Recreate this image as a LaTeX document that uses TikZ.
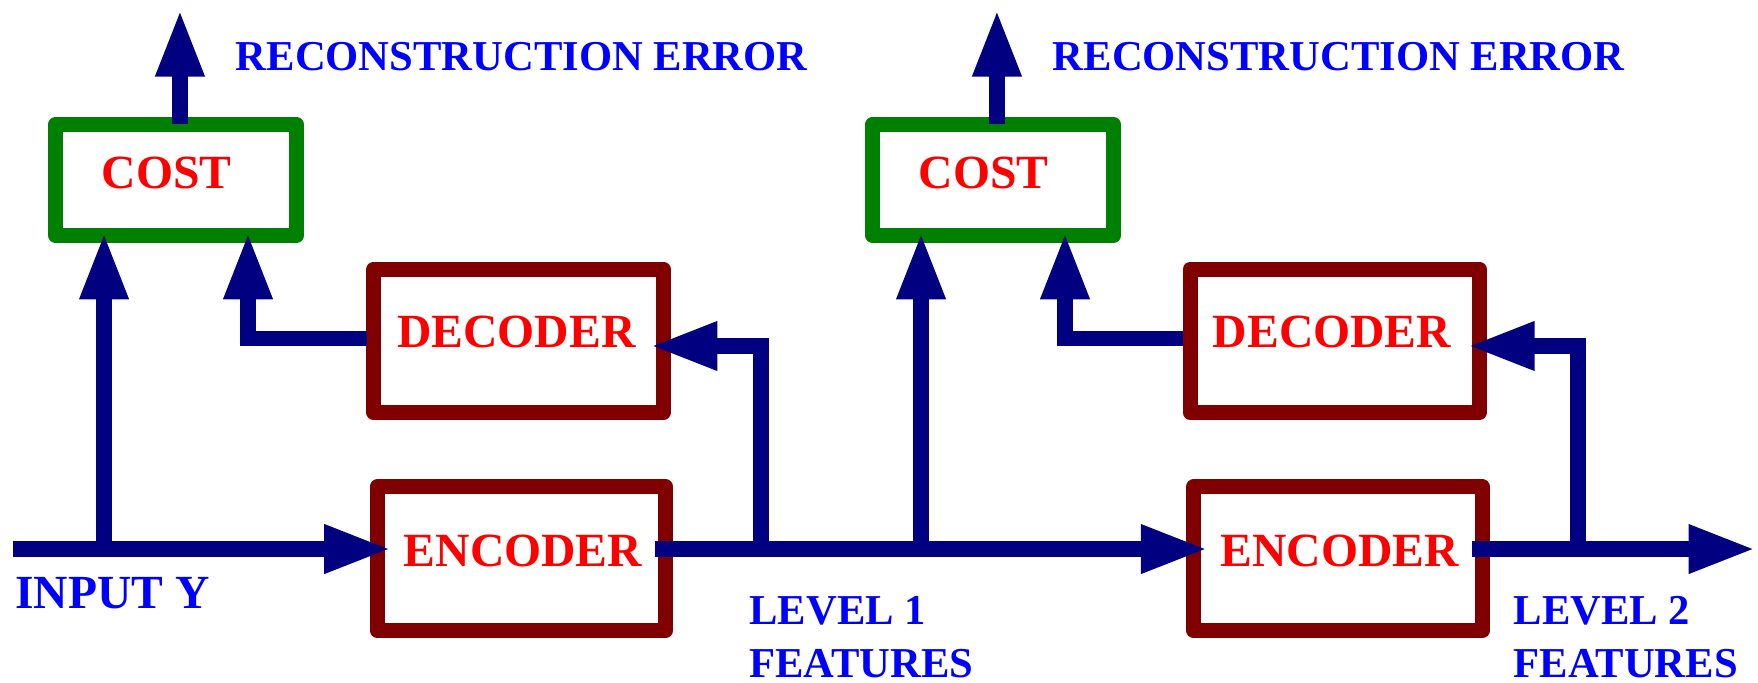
\documentclass[tikz,border=0pt]{standalone}
\usepackage{fontspec}
\setmainfont{Liberation Serif}
\usetikzlibrary{arrows.meta,calc}
\definecolor{navyline}{RGB}{0,0,128}
\definecolor{costgreen}{RGB}{0,128,0}
\definecolor{codered}{RGB}{128,0,0}
\definecolor{lblblue}{RGB}{0,0,255}
\definecolor{txtred}{RGB}{255,0,0}
\begin{document}
\begin{tikzpicture}[x=1pt,y=-1pt,
  box/.style={draw, line width=13.4pt, line join=round, inner sep=0pt, outer sep=0pt,
    text=txtred, font=\fontsize{42.5}{42.5}\selectfont\bfseries},
  costbox/.style={box, draw=costgreen, minimum width=215pt, minimum height=99pt, text depth=12pt},
  decbox/.style={box, draw=codered, minimum width=258pt, minimum height=128pt, text depth=16.4pt},
  encbox/.style={box, draw=codered, minimum width=257pt, minimum height=128.5pt, text depth=13.6pt},
  conn/.style={draw=navyline, line width=14pt, -{Triangle[length=60pt,width=40pt]}},
  lbl/.style={text=lblblue, anchor=base west, inner sep=0pt,
    font=\fontsize{38}{38}\selectfont\bfseries},
  biglbl/.style={lbl, font=\fontsize{42.4}{42.4}\selectfont\bfseries}]
\useasboundingbox (0,0) rectangle (1568,609);

% first stage
\node[costbox] (cost1) at (157,160.5) {COST\kern16.6pt};
\node[decbox] (dec1) at (462.5,304) {DECODER\kern4pt};
\node[encbox] (enc1) at (465,498.4) {\kern3pt ENCODER};
% second stage
\node[costbox] (cost2) at (885.7,160.5) {COST\kern16.6pt};
\node[decbox] (dec2) at (1190.4,304) {DECODER\kern4.8pt};
\node[encbox] (enc2) at (1193.4,498.4) {\kern3pt ENCODER};

% free ends and branch points
\coordinate (in) at (11.3,489.7);
\coordinate (out) at (1566,489.7);
\coordinate (b1) at (92.8,489.7);
\coordinate (b2) at (678.6,489.7);
\coordinate (b3) at (821.5,489.7);
\coordinate (b4) at (1407.3,489.7);
\coordinate (err1) at (160.5,8.3);
\coordinate (err2) at (889.2,8.3);

% first stage connectors
\draw[conn] (in) -- ($(in -| enc1.west)+(12.6,0)$);
\draw[conn] (b1) -- ($(b1 |- cost1.south)+(0,-3)$);
\draw[conn] ($(dec1.west)+(-6,-2)$) -| ($(cost1.south)+(64.2,-3)$);
\draw[conn] (err1 |- cost1.north) -- (err1);
\draw[conn] ($(enc1.east |- in)+(-9,0)$) -- ($(in -| enc2.west)+(12.6,0)$);
\draw[conn] (b2) |- ($(dec1.east)+(-11.6,4.6)$);
% second stage connectors
\draw[conn] (b3) -- ($(b3 |- cost2.south)+(0,-3)$);
\draw[conn] ($(dec2.west)+(-6,-2)$) -| ($(cost2.south)+(64.2,-3)$);
\draw[conn] (err2 |- cost2.north) -- (err2);
\draw[conn] ($(enc2.east |- in)+(-9,0)$) -- (out);
\draw[conn] (b4) |- ($(dec2.east)+(-10.6,4.6)$);

% labels
\node[lbl] (rec1) at (210.2,63.3) {RECONSTRUCTION ERROR};
\node[lbl] (rec2) at (938.9,63.3) {RECONSTRUCTION ERROR};
\node[biglbl] (input) at (13.4,542.6) {INPUT Y};
\node[lbl] (lev1) at (668.3,557.2) {LEVEL 1};
\node[lbl] (feat1) at (668.3,604) {FEATURES};
\node[lbl] (lev2) at (1349.8,557.2) {LEVEL 2};
\node[lbl] (feat2) at (1349.8,604) {FEATURES};
\end{tikzpicture}
\end{document}
